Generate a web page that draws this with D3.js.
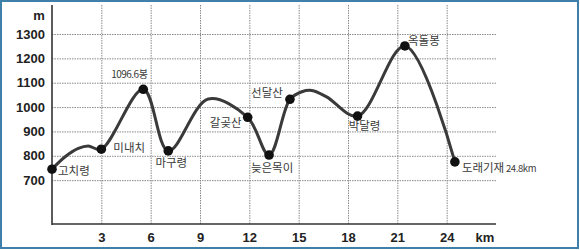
<!DOCTYPE html>
<html>
<head>
<meta charset="utf-8">
<script src="https://cdn.jsdelivr.net/npm/d3@7"></script>
<style>
  body { margin: 0; background: #fff; }
  svg { display: block; }
</style>
</head>
<body>
<svg id="chart" width="580" height="250"></svg>
<script>
// trail profile (km, m)
const trackKm = [0, 0.8, 1.6, 2.2, 3, 5.55, 7.07, 9.5, 11.9, 13.2, 14.47, 15.2, 15.8, 16.7, 18.58, 21.46, 24.5]
const trackM = [745, 796, 830, 840, 827, 1073, 820, 1033, 958, 803, 1032, 1063, 1068, 1042, 963, 1251, 775]

// named points
const peakNames = ['고치령', '미내치', '1096.6봉', '마구령', '갈곶산', '늦은목이', '선달산', '박달령', '옥돌봉', '도래기재']
const peakKm = [0, 3, 5.55, 7.07, 11.9, 13.2, 14.47, 18.58, 21.46, 24.5]
const peakM = [745, 827, 1073, 820, 958, 803, 1032, 963, 1251, 775]

const xTicks = [3, 6, 9, 12, 15, 18, 21, 24]
const yTicks = [700, 800, 900, 1000, 1100, 1200, 1300]

let svg = d3.select('#chart')

// blue frame
svg.append('rect')
  .attr('x', 1).attr('y', 1).attr('width', 577).attr('height', 247)
  .attr('fill', '#fff').attr('stroke', '#3f80aa').attr('stroke-width', 2)

let x = d3.scaleLinear().domain([0, 27]).range([52, 496])
let y = d3.scaleLinear().domain([520, 1300]).range([224, 34])
let yTop = 5

let grid = svg.append('g')
  .attr('stroke', '#8a8a8a').attr('stroke-width', 1).attr('stroke-dasharray', '1.5,1')
grid.selectAll('.vg').data(xTicks).enter().append('line')
  .attr('x1', d => x(d) + 0.5).attr('x2', d => x(d) + 0.5)
  .attr('y1', yTop).attr('y2', y(520))
grid.selectAll('.hg').data(yTicks).enter().append('line')
  .attr('x1', x(0)).attr('x2', x(27))
  .attr('y1', d => y(d) + 0.5).attr('y2', d => y(d) + 0.5)

// axes
let xAxis = d3.axisBottom(x).tickValues(xTicks).tickSize(0).tickPadding(7).tickFormat(d3.format('d'))
let yAxis = d3.axisLeft(y).tickValues(yTicks).tickSize(0).tickPadding(7).tickFormat(d3.format('d'))
let gx = svg.append('g').attr('transform', 'translate(0,' + y(520) + ')').call(xAxis)
let gy = svg.append('g').attr('transform', 'translate(' + x(0) + ',0)').call(yAxis)
gx.select('.domain').attr('d', 'M' + x(0) + ',0H' + x(27))
gy.select('.domain').attr('d', 'M0,' + (y(520) + 1) + 'V' + yTop)
svg.selectAll('.domain').attr('stroke', '#333').attr('stroke-width', 1.6)
svg.selectAll('.tick text')
  .attr('font-family', 'Liberation Sans, Arial, sans-serif')
  .attr('font-size', '13px').attr('font-weight', 'bold').attr('fill', '#222')
gx.selectAll('.tick text').attr('dy', '0.85em')

svg.append('text').attr('x', 39).attr('y', 20).attr('text-anchor', 'middle')
  .attr('font-family', 'Liberation Sans, Arial, sans-serif')
  .attr('font-size', '13px').attr('font-weight', 'bold').attr('fill', '#222').text('m')
svg.append('text').attr('x', 485).attr('y', 242).attr('text-anchor', 'middle')
  .attr('font-family', 'Liberation Sans, Arial, sans-serif')
  .attr('font-size', '13px').attr('font-weight', 'bold').attr('fill', '#222').text('km')

// profile line
let pts = trackKm.map((k, i) => [x(k), y(trackM[i])])
let line = d3.line().curve(d3.curveCatmullRom.alpha(0.5))
svg.append('path')
  .attr('d', line(pts))
  .attr('fill', 'none').attr('stroke', '#3a3a3a').attr('stroke-width', 3)
  .attr('stroke-linejoin', 'round')

// markers
svg.selectAll('.peak').data(peakKm).enter().append('circle')
  .attr('cx', d => x(d)).attr('cy', (d, i) => y(peakM[i]))
  .attr('r', 4.8).attr('fill', '#111')

// label offsets (dx, dy from marker, anchor)
const labelPos = [
  [6, 2, 'start'], [12, -1, 'start'], [-14, -15, 'middle'], [3, 12, 'middle'],
  [-22, 6, 'middle'], [3, 13, 'middle'], [-23, -6, 'middle'], [7, 10, 'middle'],
  [19, -5, 'middle'], [7, 6, 'start']
]
let labels = svg.append('g')
  .attr('font-family', 'Noto Sans CJK KR, sans-serif')
  .attr('fill', '#3a3a3a')
peakNames.forEach((name, i) => {
  let p = labelPos[i]
  let t = labels.append('text')
    .attr('x', x(peakKm[i]) + p[0]).attr('y', y(peakM[i]) + p[1])
    .attr('dy', '0.35em')
    .attr('text-anchor', p[2])
    .attr('font-size', i === 2 ? '10px' : '11.5px')
    .attr('letter-spacing', i === 2 ? '-0.5px' : '0')
    .text(name)
  if (i === peakNames.length - 1) {
    t.append('tspan').attr('font-size', '9.5px').attr('letter-spacing', '-0.4px').text(' 24.8km')
  }
})
</script>
</body>
</html>
